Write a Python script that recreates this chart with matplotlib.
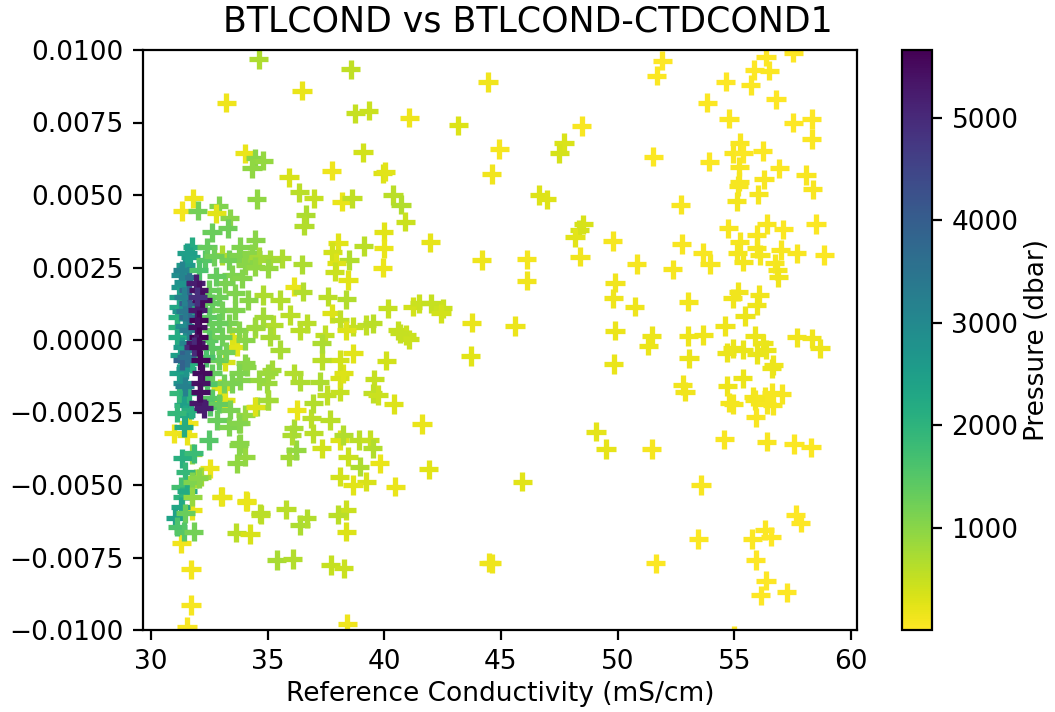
import matplotlib
matplotlib.use("Agg")
import matplotlib.pyplot as plt
import numpy as np

plt.rcParams["font.size"] = 9.5

# (conductivity mS/cm, BTLCOND-CTDCOND1, pressure dbar)

# near-surface bottles, right half of the plot
surface = [
    (51.92, 0.00963, 20), (51.67, 0.00911, 30), (56.36, 0.00977, 15), (57.53, 0.00991, 10),
    (55.86, 0.00931, 25), (56.50, 0.00929, 40), (54.64, 0.00891, 20), (55.70, 0.00879, 35),
    (53.84, 0.00818, 30), (56.79, 0.00830, 20), (54.77, 0.00763, 45), (57.53, 0.00749, 25),
    (58.32, 0.00762, 15), (58.32, 0.00693, 30), (48.46, 0.00738, 60), (47.70, 0.00680, 320),
    (47.50, 0.00644, 360), (44.93, 0.00659, 80), (44.60, 0.00572, 120), (51.53, 0.00632, 40),
    (53.93, 0.00615, 35), (55.24, 0.00680, 50), (54.96, 0.00644, 60), (55.39, 0.00644, 45),
    (56.21, 0.00652, 30), (55.21, 0.00598, 70), (56.93, 0.00592, 40), (58.07, 0.00569, 55),
    (55.21, 0.00546, 80), (55.17, 0.00531, 90), (56.27, 0.00554, 65), (56.03, 0.00503, 75),
    (55.10, 0.00478, 100), (58.36, 0.00520, 60), (46.64, 0.00500, 300), (46.96, 0.00485, 280),
    (52.70, 0.00466, 70), (48.53, 0.00399, 350), (48.36, 0.00380, 380), (48.17, 0.00354, 250),
    (49.79, 0.00341, 90), (48.39, 0.00287, 120), (46.10, 0.00278, 110), (46.10, 0.00205, 130),
    (50.82, 0.00262, 80), (52.36, 0.00244, 90), (52.74, 0.00331, 60), (53.64, 0.00301, 70),
    (53.96, 0.00262, 85), (54.74, 0.00385, 60), (56.39, 0.00400, 50), (57.10, 0.00382, 45),
    (58.50, 0.00400, 35), (55.96, 0.00362, 70), (55.24, 0.00339, 80), (55.13, 0.00299, 95),
    (55.39, 0.00270, 110), (55.96, 0.00316, 85), (56.10, 0.00293, 100), (56.99, 0.00310, 60),
    (57.67, 0.00299, 50), (58.86, 0.00293, 40), (56.74, 0.00264, 90), (56.84, 0.00241, 105),
    (56.89, 0.00216, 120), (49.89, 0.00198, 130), (49.82, 0.00144, 150), (50.74, 0.00115, 140),
    (53.03, 0.00132, 110), (55.17, 0.00167, 125), (54.93, 0.00144, 135), (56.07, 0.00155, 120),
    (55.96, 0.00121, 140), (55.46, 0.00083, 160), (54.60, 0.00048, 150), (45.60, 0.00048, 180),
    (49.89, 0.00032, 170), (51.46, 0.00014, 160), (53.03, 0.00014, 150), (53.67, 0.00017, 140),
    (55.89, 0.00014, 170), (57.67, 0.00009, 130), (58.32, 0.00006, 120),
    (51.32, -0.00020, 170), (56.24, -0.00011, 180), (56.36, -0.00034, 190), (58.67, -0.00029, 140),
    (54.93, -0.00029, 160), (54.67, -0.00044, 175), (55.39, -0.00034, 185), (55.96, -0.00048, 195),
    (56.67, -0.00086, 150), (56.60, -0.00098, 165), (49.84, -0.00083, 200), (53.06, -0.00063, 180),
    (55.36, -0.00132, 160), (54.70, -0.00159, 140), (52.79, -0.00155, 130), (52.89, -0.00178, 120),
    (54.79, -0.00216, 110), (54.96, -0.00221, 100), (55.81, -0.00195, 115), (55.89, -0.00207, 105),
    (56.31, -0.00195, 95), (56.60, -0.00182, 85), (57.03, -0.00186, 75), (56.39, -0.00221, 90),
    (56.64, -0.00224, 80), (55.92, -0.00267, 70), (49.07, -0.00316, 230), (49.50, -0.00376, 210),
    (51.46, -0.00376, 90), (54.57, -0.00343, 60), (56.39, -0.00351, 55), (57.56, -0.00359, 45),
    (58.29, -0.00370, 35), (45.92, -0.00489, 260), (53.57, -0.00500, 50), (57.64, -0.00603, 25),
    (57.84, -0.00630, 20), (56.31, -0.00655, 30), (56.57, -0.00678, 25), (55.77, -0.00686, 35),
    (53.46, -0.00686, 40), (55.92, -0.00759, 20), (51.63, -0.00770, 45), (44.60, -0.00770, 150),
    (56.36, -0.00830, 15), (56.14, -0.00880, 10), (57.24, -0.00870, 12), (55.00, -0.01020, 5),
]

# upper-ocean bottles, 33-45 mS/cm
upper = [
    (34.61, 0.00968, 700), (38.56, 0.00933, 550), (36.47, 0.00860, 200), (33.23, 0.00818, 150),
    (44.45, 0.00890, 120), (38.76, 0.00782, 500), (39.34, 0.00791, 450), (41.08, 0.00767, 150),
    (43.18, 0.00740, 300), (34.01, 0.00644, 200), (34.47, 0.00627, 1000), (34.80, 0.00618, 900),
    (34.33, 0.00592, 950), (39.09, 0.00647, 400), (35.92, 0.00561, 350), (37.74, 0.00584, 150),
    (39.94, 0.00575, 300), (40.05, 0.00580, 250), (36.36, 0.00509, 600), (36.98, 0.00489, 500),
    (34.54, 0.00486, 950), (38.19, 0.00477, 200), (38.62, 0.00489, 550), (40.37, 0.00500, 600),
    (40.72, 0.00466, 650), (31.81, 0.00489, 150), (31.34, 0.00445, 100), (32.00, 0.00446, 1200),
    (32.90, 0.00463, 1100), (32.80, 0.00437, 250), (33.37, 0.00420, 1000), (32.62, 0.00371, 1300),
    (33.29, 0.00385, 1250), (36.64, 0.00431, 700), (36.56, 0.00394, 650), (40.90, 0.00408, 450),
    (39.98, 0.00373, 250), (39.98, 0.00316, 200), (39.94, 0.00249, 180), (41.98, 0.00337, 220),
    (44.18, 0.00276, 150), (34.47, 0.00345, 1000), (38.02, 0.00336, 250), (37.78, 0.00304, 400),
    (39.12, 0.00324, 600), (38.49, 0.00276, 650), (36.48, 0.00261, 700), (37.95, 0.00267, 300),
    (37.88, 0.00236, 450), (38.45, 0.00207, 250), (35.60, 0.00282, 700), (33.83, 0.00322, 1100),
    (34.25, 0.00276, 900), (35.10, 0.00276, 800), (36.14, 0.00184, 200), (36.50, 0.00167, 650),
    (34.82, 0.00155, 700), (35.53, 0.00138, 650), (37.57, 0.00149, 600), (38.38, 0.00140, 650),
    (40.15, 0.00109, 500), (41.22, 0.00115, 400), (41.50, 0.00127, 450), (42.00, 0.00127, 500),
    (42.50, 0.00109, 450), (42.43, 0.00092, 400), (43.75, 0.00060, 200), (35.96, 0.00086, 600),
    (37.74, 0.00092, 300), (38.09, 0.00069, 550), (36.67, 0.00058, 600), (35.25, 0.00052, 650),
    (34.47, 0.00040, 700), (38.66, 0.00046, 500), (39.23, 0.00052, 550), (39.51, 0.00058, 600),
    (40.58, 0.00034, 500), (40.94, 0.00017, 450), (38.38, 0.00034, 300), (37.45, 0.00017, 550),
    (36.39, 0.00034, 600), (41.08, 0.00002, 450), (40.66, 0.00023, 500),
    (43.71, -0.00055, 250), (40.08, -0.00071, 400), (39.58, -0.00136, 500), (39.51, -0.00184, 550),
    (39.73, -0.00190, 450), (40.40, -0.00221, 300), (41.62, -0.00290, 200), (41.90, -0.00446, 250),
    (40.48, -0.00506, 200), (44.49, -0.00768, 150), (39.23, -0.00489, 350), (38.66, -0.00500, 250),
    (38.09, -0.00471, 400), (38.38, -0.00586, 450), (38.02, -0.00603, 600), (38.38, -0.00661, 300),
    (36.39, -0.00638, 700), (36.67, -0.00615, 650), (35.79, -0.00584, 600), (34.71, -0.00603, 550),
    (34.08, -0.00555, 200), (33.02, -0.00540, 250), (33.66, -0.00664, 600), (34.25, -0.00669, 350),
    (35.39, -0.00759, 750), (36.07, -0.00755, 650), (37.70, -0.00776, 500), (38.26, -0.00787, 450),
    (38.41, -0.00979, 150), (31.72, -0.00791, 100), (31.72, -0.00914, 80), (31.55, -0.00989, 60),
    (31.30, -0.00701, 120), (32.52, -0.00442, 180), (31.95, -0.00477, 700), (32.16, -0.00471, 800),
    (31.77, -0.00393, 900), (33.80, -0.00356, 1000), (34.04, -0.00402, 900), (33.69, -0.00425, 950),
    (35.93, -0.00402, 800), (36.22, -0.00379, 900), (36.04, -0.00328, 700), (36.11, -0.00305, 750),
    (36.96, -0.00322, 600), (37.31, -0.00373, 400), (38.09, -0.00345, 300), (38.24, -0.00328, 650),
    (38.91, -0.00345, 600), (39.37, -0.00345, 500), (39.51, -0.00373, 650), (39.80, -0.00425, 200),
    (38.45, -0.00402, 450), (38.95, -0.00437, 700), (37.67, -0.00276, 600), (36.24, -0.00241, 200),
    (36.88, -0.00270, 600), (36.96, -0.00218, 650), (37.24, -0.00144, 700), (37.53, -0.00190, 550),
    (38.09, -0.00178, 500), (38.09, -0.00132, 350), (38.24, -0.00115, 300), (38.66, -0.00046, 250),
    (38.09, -0.00069, 400), (37.31, -0.00069, 600), (37.31, -0.00011, 700), (35.53, -0.00034, 750),
    (35.18, -0.00103, 800), (35.03, -0.00207, 700), (34.54, -0.00230, 850), (34.04, -0.00259, 900),
    (33.83, -0.00287, 950), (36.11, -0.00115, 650), (36.39, -0.00144, 700), (34.97, -0.00149, 850),
    (34.61, -0.00138, 900), (34.11, -0.00092, 1000), (33.83, -0.00138, 1050), (33.11, -0.00207, 200),
    (32.97, -0.00167, 300), (33.19, -0.00075, 350), (30.98, -0.00322, 150), (31.55, -0.00328, 200),
    (33.47, 0.00011, 300), (33.69, -0.00023, 250), (33.19, -0.00207, 250), (34.47, -0.00230, 300),
    (33.05, -0.00540, 200), (34.11, -0.00557, 200), (31.77, -0.00586, 200), (31.62, -0.00287, 150),
]

# intermediate water, ~1000-1700 dbar
intermediate = [
    (33.05, 0.00293, 700), (33.33, 0.00276, 1200), (33.76, 0.00293, 1100), (34.33, 0.00299, 1000),
    (34.61, 0.00287, 800), (34.04, 0.00259, 1000), (34.47, 0.00253, 950), (35.03, 0.00247, 900),
    (32.33, 0.00276, 1500), (32.05, 0.00241, 1600), (33.47, 0.00224, 1100), (33.90, 0.00213, 1050),
    (33.19, 0.00196, 1150), (34.18, 0.00138, 1000), (33.61, 0.00161, 1100), (32.91, 0.00149, 1250),
    (32.33, 0.00138, 1400), (32.48, 0.00172, 1300), (32.62, 0.00127, 1350), (32.48, 0.00080, 1400),
    (32.62, 0.00034, 1300), (32.48, 0.00000, 1450), (33.05, 0.00103, 1200), (33.33, 0.00058, 1150),
    (33.05, 0.00011, 1250), (33.61, 0.00103, 1100), (33.76, 0.00034, 1050), (34.04, 0.00000, 1000),
    (34.47, 0.00046, 850), (34.82, 0.00080, 800), (35.10, 0.00011, 750), (32.80, 0.00220, 1350),
    (32.62, -0.00029, 1400), (32.91, -0.00069, 1300), (32.62, -0.00115, 1350), (33.12, -0.00149, 1200),
    (32.62, -0.00201, 1450), (32.55, -0.00230, 1500), (32.83, -0.00276, 1300), (33.33, -0.00299, 1100),
    (33.76, -0.00287, 1050), (34.04, -0.00080, 1000), (35.03, -0.00115, 850), (33.76, -0.00115, 1100),
    (33.47, -0.00149, 1150), (35.03, -0.00207, 800), (32.48, -0.00345, 1500), (33.76, -0.00362, 1000),
    (34.68, -0.00598, 600), (31.77, -0.00489, 1100), (32.05, -0.00477, 1000), (31.77, -0.00540, 900),
    (31.48, -0.00598, 1300), (31.13, -0.00644, 1600), (31.41, -0.00661, 1500), (31.84, -0.00661, 1200),
    (32.40, 0.00320, 1350), (32.70, 0.00290, 1250), (32.90, 0.00060, 1300), (33.20, -0.00040, 1200),
    (32.40, -0.00150, 1550), (32.90, -0.00220, 1350), (33.40, -0.00240, 1150), (32.35, -0.00060, 1600),
]

# deep water, ~1800-3000 dbar
deep = [
    (31.77, 0.00322, 2200), (31.69, 0.00287, 2400), (31.48, 0.00259, 2600), (31.27, 0.00224, 2900),
    (31.27, 0.00184, 2700), (31.20, 0.00149, 2500), (31.20, 0.00115, 2300), (31.13, 0.00080, 2100),
    (31.13, 0.00046, 2000), (31.13, 0.00011, 2200), (31.34, -0.00023, 2600), (31.20, -0.00115, 2400),
    (31.34, -0.00149, 2800), (31.20, -0.00184, 1900), (31.41, -0.00224, 2500), (31.48, -0.00259, 2300),
    (31.62, -0.00184, 2000), (31.34, -0.00408, 2100), (31.84, -0.00391, 1800), (31.48, -0.00454, 1900),
    (31.27, -0.00506, 1700), (31.34, -0.00540, 2000), (31.27, -0.00575, 2300), (31.05, -0.00615, 2400),
    (31.55, 0.00300, 2500), (31.40, 0.00200, 2800), (31.30, 0.00100, 2700), (31.45, 0.00050, 2900),
    (31.25, -0.00050, 2500), (31.50, -0.00100, 2700), (31.40, -0.00300, 2200), (31.70, -0.00240, 2100),
    (31.80, 0.00100, 2000), (31.75, -0.00080, 2100), (31.10, -0.00250, 1900), (31.55, -0.00520, 2200),
]

# abyssal water, ~3000-4500 dbar
abyssal = [
    (31.62, 0.00218, 3500), (31.62, 0.00172, 3800), (31.62, 0.00127, 4000), (31.62, 0.00080, 3700),
    (31.62, 0.00034, 3300), (31.62, -0.00011, 3100), (31.34, -0.00069, 3900), (31.48, 0.00100, 3400),
    (31.41, 0.00150, 3200), (31.55, -0.00060, 3600), (31.45, -0.00160, 3200), (31.35, 0.00240, 3100),
]

# bottom water, ~4800-5660 dbar
bottom = [
    (31.91, 0.00196, 5200), (32.05, 0.00172, 5400), (32.19, 0.00138, 5500), (31.98, 0.00103, 5300),
    (32.05, 0.00069, 5600), (31.98, 0.00046, 5450), (32.05, 0.00011, 5660), (31.91, -0.00011, 5350),
    (31.84, -0.00023, 5000), (32.05, -0.00023, 5550), (32.12, -0.00069, 5600), (32.19, -0.00115, 5500),
    (32.12, -0.00149, 5400), (32.05, -0.00218, 5300), (32.26, -0.00236, 5200), (31.98, 0.00150, 4900),
    (32.12, -0.00180, 5450),
]

groups = [surface, upper, deep, abyssal, intermediate, bottom]
cond = np.array([p[0] for g in groups for p in g])
diff = np.array([p[1] for g in groups for p in g])
pres = np.array([p[2] for g in groups for p in g])

fig = plt.figure(figsize=(1055 / 200, 712 / 200), dpi=200)
ax = fig.add_axes([143 / 1055, 82 / 712, 714 / 1055, 580 / 712])
cax = fig.add_axes([902 / 1055, 82 / 712, 30 / 1055, 580 / 712])

sc = ax.scatter(cond, diff, c=pres, cmap="viridis_r", marker="+", s=48, linewidths=1.9)
ax.set_xlim(29.66, 60.26)
ax.set_ylim(-0.01, 0.01)
ax.set_yticks([-0.01, -0.0075, -0.005, -0.0025, 0, 0.0025, 0.005, 0.0075, 0.01])
ax.set_xlabel("Reference Conductivity (mS/cm)", labelpad=2)

# title sits centred on the whole figure in the reference
fig.suptitle("BTLCOND vs BTLCOND-CTDCOND1", x=0.5, y=1 - 22 / 712, va="center", fontsize=12.5)

cb = fig.colorbar(sc, cax=cax)
cb.set_label("Pressure (dbar)", labelpad=2)

fig.savefig("out.png", dpi=200)
